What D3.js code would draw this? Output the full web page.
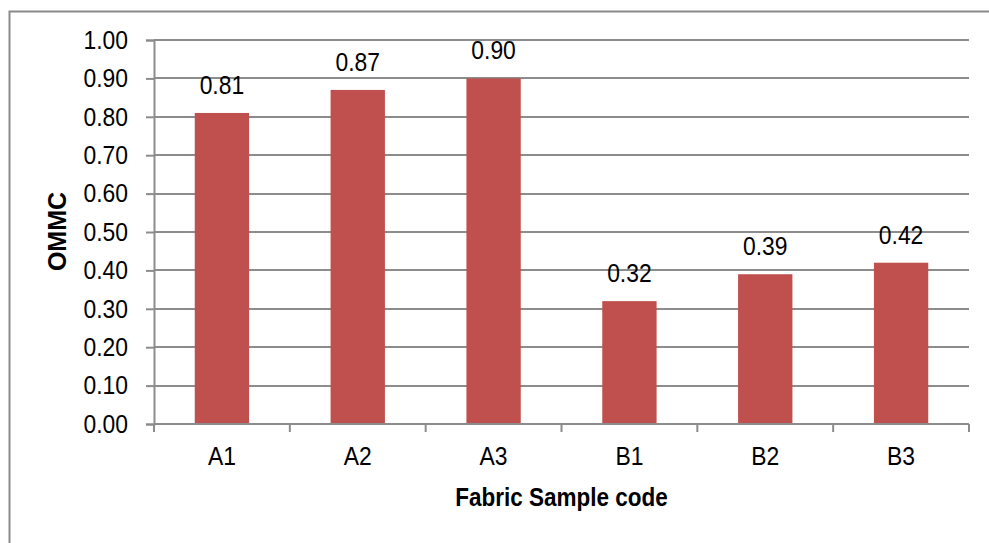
<!DOCTYPE html>
<html><head><meta charset="utf-8">
<script src="https://cdn.jsdelivr.net/npm/d3@7"></script>
<style>
html,body{margin:0;padding:0;background:#fff;}
svg{display:block;}
text{font-family:"Liberation Sans",Arial,sans-serif;fill:#000;}
</style></head>
<body>
<svg id="chart" width="989" height="543"></svg>
<script>
const categories = ["A1","A2","A3","B1","B2","B3"];
const values = [0.81,0.87,0.90,0.32,0.39,0.42];
const yTicks = [0,0.1,0.2,0.3,0.4,0.5,0.6,0.7,0.8,0.9,1.0];
const xTitle = "Fabric Sample code";
const yTitle = "OMMC";

const svg = d3.select("#chart");
const pLeft = 154, pRight = 969, pTop = 40, pBottom = 424;
const K = 0.88; // horizontal condensing of text

function condense(sel, k){
  sel.each(function(){
    const t = d3.select(this);
    const xv = +(t.attr("x") || 0);
    t.attr("x", xv / k).attr("transform", `scale(${k},1)`);
  });
}

// outer frame (left + top)
svg.append("path").attr("d","M9.5,543 L9.5,11.5 L989,11.5")
  .attr("fill","none").attr("stroke","#8a8a8a").attr("stroke-width",2);

const x = d3.scaleBand().domain(categories).range([pLeft,pRight]).paddingInner(0.6).paddingOuter(0.3);
const y = d3.scaleLinear().domain([0,1]).range([pBottom,pTop]);

// gridlines
svg.append("g").selectAll("line").data(yTicks.slice(1)).join("line")
  .attr("x1",pLeft).attr("x2",pRight)
  .attr("y1",d=>Math.round(y(d))).attr("y2",d=>Math.round(y(d)))
  .attr("stroke","#8c8c8c").attr("stroke-width",2);

// bars
svg.append("g").selectAll("rect").data(values).join("rect")
  .attr("x",(d,i)=>x(categories[i])).attr("width",x.bandwidth())
  .attr("y",d=>y(d)).attr("height",d=>y(0)-y(d))
  .attr("fill","#C0504D");

// y axis
const yAxis = d3.axisLeft(y).tickValues(yTicks).tickFormat(d3.format(".2f")).tickSize(8).tickPadding(18);
const gy = svg.append("g").attr("transform",`translate(${pLeft},0)`).call(yAxis);
gy.select(".domain").attr("stroke","#8c8c8c").attr("stroke-width",2);
gy.selectAll(".tick line").attr("stroke","#8c8c8c").attr("stroke-width",2);
gy.selectAll(".tick text").attr("font-size",26).attr("font-family",null).attr("fill","#000");
condense(gy.selectAll(".tick text"), K);

// x axis
const xb = d3.scaleBand().domain(categories).range([pLeft,pRight]);
const xAxis = d3.axisBottom(xb).tickSize(0).tickPadding(23);
const gx = svg.append("g").attr("transform",`translate(0,${pBottom})`).call(xAxis);
gx.select(".domain").attr("d",`M${pLeft},0H${pRight}`).attr("stroke","#8c8c8c").attr("stroke-width",2);
gx.selectAll(".tick text").attr("font-size",26).attr("font-family",null).attr("fill","#000");
condense(gx.selectAll(".tick text"), K);
// category separator ticks
gx.append("g").selectAll("line").data(d3.range(categories.length+1)).join("line")
  .attr("x1",i=>pLeft+i*xb.step()).attr("x2",i=>pLeft+i*xb.step())
  .attr("y1",0).attr("y2",8).attr("stroke","#8c8c8c").attr("stroke-width",2);

// data labels
const labels = svg.append("g").selectAll("text").data(values).join("text")
  .attr("x",(d,i)=>x(categories[i])+x.bandwidth()/2)
  .attr("y",d=>y(d)-19)
  .attr("text-anchor","middle").attr("font-size",26)
  .text(d=>d3.format(".2f")(d));
condense(labels, K);

// titles
const xt = svg.append("text").attr("x",(pLeft+pRight)/2).attr("y",506)
  .attr("text-anchor","middle").attr("font-size",25).attr("font-weight","bold").text(xTitle);
condense(xt, 0.9);
svg.append("text").attr("transform",`translate(66,${(pTop+pBottom)/2 - 0.5}) rotate(-90)`)
  .attr("text-anchor","middle").attr("font-size",25).attr("font-weight","bold").text(yTitle);
</script>
</body></html>
